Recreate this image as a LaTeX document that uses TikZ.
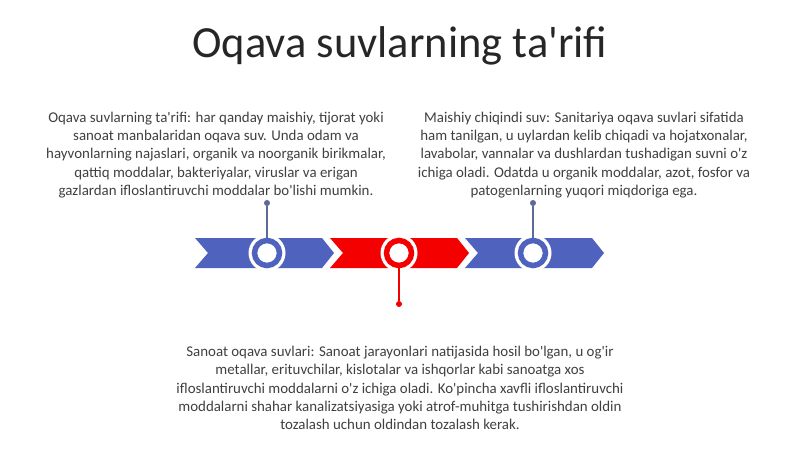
\documentclass[tikz,border=0pt]{standalone}
\usepackage{fontspec}
\setmainfont{Carlito}
\newcommand\ap{\textquotesingle}
\definecolor{chblue}{HTML}{4F62BE}
\definecolor{chred}{HTML}{F40000}
\definecolor{stemblue}{HTML}{5C6A95}
\definecolor{txt}{HTML}{404040}
\definecolor{ttl}{HTML}{262626}
\begin{document}
\begin{tikzpicture}[x=1pt,y=-1pt,
  body/.style={align=center,text=txt,font=\fontsize{14.9}{18.4}\selectfont,inner sep=0pt},
  ring/.style={circle,draw=#1,line width=5.5pt,fill=white,minimum size=25pt,inner sep=0pt},
  dotnode/.style={circle,fill=#1,minimum size=6pt,inner sep=0pt},
  stem/.style={draw=#1,line width=1.3pt}]
\useasboundingbox (0,0) rectangle (800,449);
\fill[white] (0,0) rectangle (800,449);
\node[text=ttl,font=\fontsize{44.5}{50}\selectfont,inner sep=0pt] (title) at (400,46) {Oqava suvlarning ta\ap rifi};
% chevrons
\newcommand\chev[2]{\fill[#2] (#1,238) -- ++(127,0) -- ++(12,15) -- ++(-12,15) -- ++(-127,0) -- ++(13,-15) -- cycle;}
\chev{195}{chblue}
\chev{330}{chred}
\chev{465}{chblue}
% circles
\fill[white] (267,253) circle (18.5);
\fill[white] (399,253) circle (18.5);
\fill[white] (533,253) circle (18.5);
\node[ring=chblue] (c1) at (267,253) {};
\node[ring=chred] (c2) at (399,253) {};
\node[ring=chblue] (c3) at (533,253) {};
\node[dotnode=stemblue] (d1) at (267,203) {};
\node[dotnode=chred] (d2) at (399,304) {};
\node[dotnode=stemblue] (d3) at (533,203) {};
\draw[stem=stemblue] (d1) -- (c1.north);
\draw[stem=chred] (c2.south) -- (d2);
\draw[stem=stemblue] (d3) -- (c3.north);
% texts
\node[body] (t1) at (216,155) {Oqava suvlarning ta\ap rifi: har qanday maishiy, tijorat yoki\\
sanoat manbalaridan oqava suv. Unda odam va\\
hayvonlarning najaslari, organik va noorganik birikmalar,\\
qattiq moddalar, bakteriyalar, viruslar va erigan\\
gazlardan ifloslantiruvchi moddalar bo\ap lishi mumkin.};
\node[body] (t2) at (584,155) {Maishiy chiqindi suv: Sanitariya oqava suvlari sifatida\\
ham tanilgan, u uylardan kelib chiqadi va hojatxonalar,\\
lavabolar, vannalar va dushlardan tushadigan suvni o\ap z\\
ichiga oladi. Odatda u organik moddalar, azot, fosfor va\\
patogenlarning yuqori miqdoriga ega.};
\node[body] (t3) at (400,388) {Sanoat oqava suvlari: Sanoat jarayonlari natijasida hosil bo\ap lgan, u og\ap ir\\
metallar, erituvchilar, kislotalar va ishqorlar kabi sanoatga xos\\
ifloslantiruvchi moddalarni o\ap z ichiga oladi. Ko\ap pincha xavfli ifloslantiruvchi\\
moddalarni shahar kanalizatsiyasiga yoki atrof-muhitga tushirishdan oldin\\
tozalash uchun oldindan tozalash kerak.};
\end{tikzpicture}
\end{document}
